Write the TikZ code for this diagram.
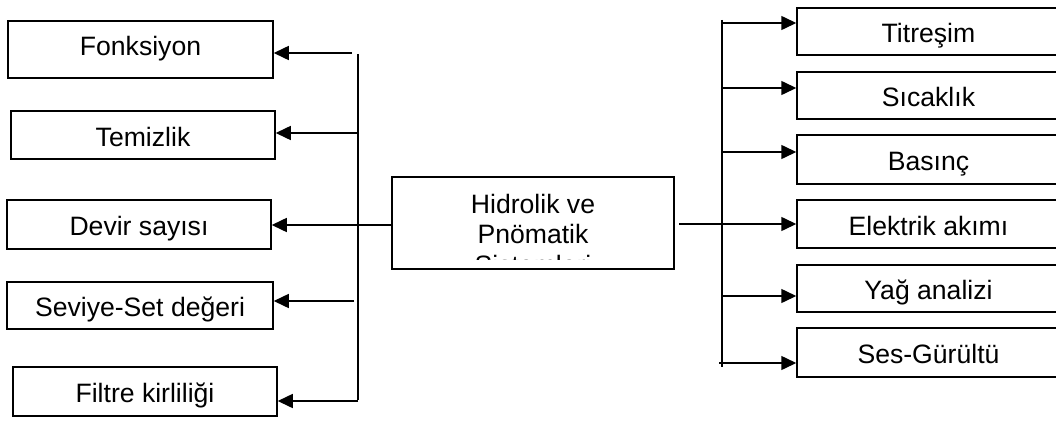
\documentclass[tikz,border=0pt]{standalone}
\usepackage{fontspec}
\setmainfont{Liberation Sans}
\usetikzlibrary{arrows.meta}

\tikzset{
  box/.style={draw, line width=1.5pt, inner sep=0pt, text height=24pt, text depth=2pt,
              font=\fontsize{26.6}{30}\selectfont},
  arr/.style={line width=1.5pt, -{Triangle[length=15pt,width=14pt]}},
  bus/.style={line width=1.5pt},
  line/.style={font=\fontsize{26.6}{30}\selectfont, inner sep=0pt, anchor=base}
}

\begin{document}
\begin{tikzpicture}[x=1pt, y=-1pt]
  \useasboundingbox (0,0) rectangle (1056,420);
  \clip (0,0) rectangle (1056,420);

  % left column of boxes
  \node[box, minimum width=265pt, minimum height=57pt, text depth=11pt] (fonk) at (140.5,49.5) {Fonksiyon};
  \node[box, minimum width=264pt, minimum height=48pt] (temiz) at (143,135) {Temizlik};
  \node[box, minimum width=264pt, minimum height=49pt] (devir) at (139,224.5) {Devir sayısı};
  \node[box, minimum width=266pt, minimum height=47pt] (seviye) at (140,305.5) {Seviye-Set değeri};
  \node[box, minimum width=264pt, minimum height=49pt] (filtre) at (145,391.5) {Filtre kirliliği};

  % right column of boxes
  \node[box, minimum width=263pt, minimum height=47pt] (titre) at (928.5,31.5) {Titreşim};
  \node[box, minimum width=263pt, minimum height=47pt] (sicak) at (928.5,95.5) {Sıcaklık};
  \node[box, minimum width=263pt, minimum height=49pt] (basinc) at (928.5,159.5) {Basınç};
  \node[box, minimum width=263pt, minimum height=48pt] (elek) at (928.5,224) {Elektrik akımı};
  \node[box, minimum width=263pt, minimum height=47pt] (yag) at (928.5,288.5) {Yağ analizi};
  \node[box, minimum width=263pt, minimum height=49pt] (ses) at (928.5,352.5) {Ses-Gürültü};

  % central box with its text cut off at the bottom
  \node[draw, line width=1.5pt, minimum width=282pt, minimum height=92pt, inner sep=0pt] (hyd) at (533,223) {};
  \begin{scope}
    \clip (392,177) rectangle (674,259.5);
    \node[line] (hydA) at (533,213) {Hidrolik ve};
    \node[line] (hydB) at (533,243) {Pnömatik};
    \node[line] (hydC) at (533,274.5) {Sistemleri};
  \end{scope}

  % left distribution bus
  \coordinate (lbTop) at (358,54);
  \coordinate (lbBot) at (358,400);
  \draw[bus] (lbTop) -- (lbBot);
  \coordinate (l1) at (352,53);
  \coordinate (l2) at (359,133);
  \coordinate (l3) at (392,225);
  \coordinate (l4) at (354,301);
  \coordinate (l5) at (358,401);
  \draw[arr] (l1) -- (l1 -| fonk.east);
  \draw[arr] (l2) -- (l2 -| temiz.east);
  \draw[arr] (l3) -- (l3 -| devir.east);
  \draw[arr] (l4) -- (l4 -| seviye.east);
  \draw[arr] (l5) -- (l5 -| filtre.east);

  % right distribution bus
  \coordinate (rbTop) at (722,20);
  \coordinate (rbBot) at (722,367);
  \draw[bus] (rbTop) -- (rbBot);
  \coordinate (r1) at (722,23);
  \coordinate (r2) at (722,88);
  \coordinate (r3) at (722,152);
  \coordinate (r4) at (679,224);
  \coordinate (r5) at (722,296);
  \coordinate (r6) at (719,363);
  \draw[arr] (r1) -- (r1 -| titre.west);
  \draw[arr] (r2) -- (r2 -| sicak.west);
  \draw[arr] (r3) -- (r3 -| basinc.west);
  \draw[arr] (r4) -- (r4 -| elek.west);
  \draw[arr] (r5) -- (r5 -| yag.west);
  \draw[arr] (r6) -- (r6 -| ses.west);
\end{tikzpicture}
\end{document}
